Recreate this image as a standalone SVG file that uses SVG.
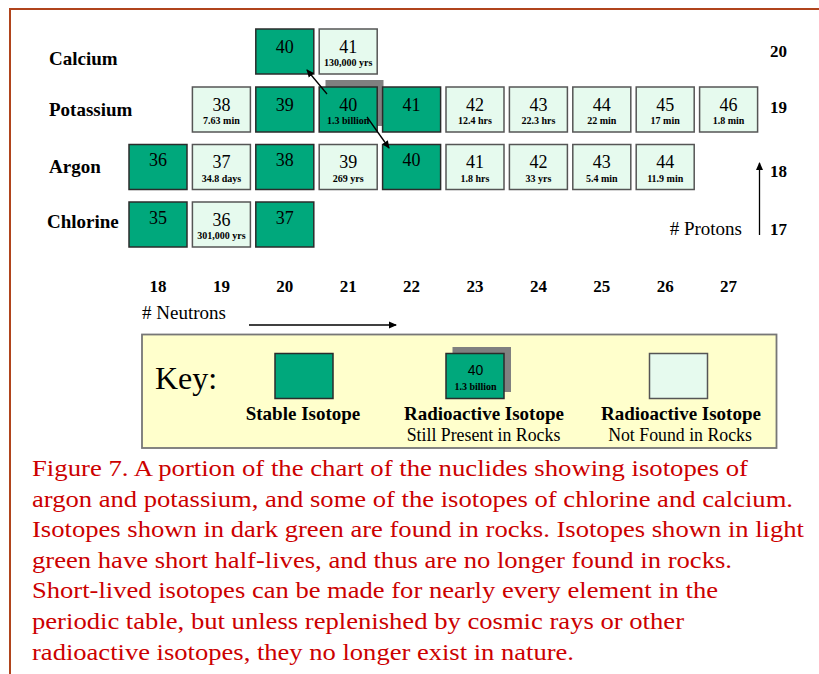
<svg xmlns="http://www.w3.org/2000/svg" width="819" height="674" viewBox="0 0 819 674">
<style>
.st{fill:#00a87c;stroke:#2b2b2b;stroke-width:1.5}
.lt{fill:#e6faee;stroke:#555;stroke-width:1.5}
.sh{fill:#808080}
.num{font-family:"Liberation Serif",serif;font-size:18px;fill:#000;text-anchor:middle}
.sub{font-family:"Liberation Serif",serif;font-size:10px;font-weight:bold;fill:#000;text-anchor:middle}
.el{font-family:"Liberation Serif",serif;font-size:19px;font-weight:bold;fill:#000}
.ax{font-family:"Liberation Serif",serif;font-size:17px;font-weight:bold;fill:#000}
.axl{font-family:"Liberation Serif",serif;font-size:19px;fill:#000}
.kl{font-family:"Liberation Serif",serif;font-size:19px;font-weight:bold;fill:#000;text-anchor:middle}
.ks{font-family:"Liberation Serif",serif;font-size:17.8px;fill:#000;text-anchor:middle}
.cap{font-family:"Liberation Serif",serif;font-size:24px;fill:#cc0000}
.ln{stroke:#000;stroke-width:1.3;fill:none}
</style>
<defs>
<marker id="ah" markerWidth="8" markerHeight="8" refX="7" refY="4" orient="auto" markerUnits="userSpaceOnUse">
<path d="M0,0.5 L8,4 L0,7.5 z" fill="#000"/>
</marker>
</defs>
<rect width="819" height="674" fill="#fff"/>
<g id="border" stroke="#b0441c" stroke-width="2" fill="none">
<path d="M10,674 V9 H819"/>
</g>
<g id="labels">
<text class="el" x="49" y="65">Calcium</text>
<text class="el" x="49" y="116">Potassium</text>
<text class="el" x="49" y="173">Argon</text>
<text class="el" x="47" y="228">Chlorine</text>
<text class="ax" x="787" y="56.5" text-anchor="end">20</text>
<text class="ax" x="787" y="113" text-anchor="end">19</text>
<text class="ax" x="787" y="176.5" text-anchor="end">18</text>
<text class="ax" x="787" y="235" text-anchor="end">17</text>
<text class="axl" x="742" y="235" text-anchor="end"># Protons</text>
<g class="ax" text-anchor="middle">
<text x="158" y="291.5">18</text>
<text x="221.4" y="291.5">19</text>
<text x="284.8" y="291.5">20</text>
<text x="348.2" y="291.5">21</text>
<text x="411.6" y="291.5">22</text>
<text x="475" y="291.5">23</text>
<text x="538.4" y="291.5">24</text>
<text x="601.8" y="291.5">25</text>
<text x="665.2" y="291.5">26</text>
<text x="728.6" y="291.5">27</text>
</g>
<text class="axl" x="142" y="319"># Neutrons</text>
</g>
<!-- Calcium -->
<g id="ca40"><rect class="st" x="255.8" y="29" width="58" height="45"/><text class="num" x="284.8" y="52.5">40</text></g>
<g id="ca41"><rect class="lt" x="319.2" y="29" width="58" height="45"/><text class="num" x="348.2" y="53">41</text><text class="sub" x="348.2" y="66">130,000 yrs</text></g>
<!-- Potassium -->
<g id="k38"><rect class="lt" x="192.4" y="87" width="58" height="45"/><text class="num" x="221.4" y="111">38</text><text class="sub" x="221.4" y="124">7.63 min</text></g>
<g id="k39"><rect class="st" x="255.8" y="87" width="58" height="45"/><text class="num" x="284.8" y="110.5">39</text></g>
<g id="k40"><rect class="sh" x="325.5" y="80" width="58" height="46"/><rect class="st" x="319.2" y="87" width="58" height="45"/><text class="num" x="348.2" y="110.5">40</text><text class="sub" x="348.2" y="124">1.3 billion</text></g>
<g id="k41"><rect class="st" x="382.6" y="87" width="58" height="45"/><text class="num" x="411.6" y="110.5">41</text></g>
<g id="k42"><rect class="lt" x="446" y="87" width="58" height="45"/><text class="num" x="475" y="111">42</text><text class="sub" x="475" y="124">12.4 hrs</text></g>
<g id="k43"><rect class="lt" x="509.4" y="87" width="58" height="45"/><text class="num" x="538.4" y="111">43</text><text class="sub" x="538.4" y="124">22.3 hrs</text></g>
<g id="k44"><rect class="lt" x="572.8" y="87" width="58" height="45"/><text class="num" x="601.8" y="111">44</text><text class="sub" x="601.8" y="124">22 min</text></g>
<g id="k45"><rect class="lt" x="636.2" y="87" width="58" height="45"/><text class="num" x="665.2" y="111">45</text><text class="sub" x="665.2" y="124">17 min</text></g>
<g id="k46"><rect class="lt" x="699.6" y="87" width="58" height="45"/><text class="num" x="728.6" y="111">46</text><text class="sub" x="728.6" y="124">1.8 min</text></g>
<!-- Argon -->
<g id="ar36"><rect class="st" x="129" y="144.5" width="58" height="45"/><text class="num" x="158" y="166">36</text></g>
<g id="ar37"><rect class="lt" x="192.4" y="144.5" width="58" height="45"/><text class="num" x="221.4" y="168">37</text><text class="sub" x="221.4" y="181.5">34.8 days</text></g>
<g id="ar38"><rect class="st" x="255.8" y="144.5" width="58" height="45"/><text class="num" x="284.8" y="166">38</text></g>
<g id="ar39"><rect class="lt" x="319.2" y="144.5" width="58" height="45"/><text class="num" x="348.2" y="168">39</text><text class="sub" x="348.2" y="181.5">269 yrs</text></g>
<g id="ar40"><rect class="st" x="382.6" y="144.5" width="58" height="45"/><text class="num" x="411.6" y="166">40</text></g>
<g id="ar41"><rect class="lt" x="446" y="144.5" width="58" height="45"/><text class="num" x="475" y="168">41</text><text class="sub" x="475" y="181.5">1.8 hrs</text></g>
<g id="ar42"><rect class="lt" x="509.4" y="144.5" width="58" height="45"/><text class="num" x="538.4" y="168">42</text><text class="sub" x="538.4" y="181.5">33 yrs</text></g>
<g id="ar43"><rect class="lt" x="572.8" y="144.5" width="58" height="45"/><text class="num" x="601.8" y="168">43</text><text class="sub" x="601.8" y="181.5">5.4 min</text></g>
<g id="ar44"><rect class="lt" x="636.2" y="144.5" width="58" height="45"/><text class="num" x="665.2" y="168">44</text><text class="sub" x="665.2" y="181.5">11.9 min</text></g>
<!-- Chlorine -->
<g id="cl35"><rect class="st" x="129" y="202" width="58" height="45"/><text class="num" x="158" y="223.5">35</text></g>
<g id="cl36"><rect class="lt" x="192.4" y="202" width="58" height="45"/><text class="num" x="221.4" y="225.5">36</text><text class="sub" x="221.4" y="239">301,000 yrs</text></g>
<g id="cl37"><rect class="st" x="255.8" y="202" width="58" height="45"/><text class="num" x="284.8" y="223.5">37</text></g>
<g id="connectors">
<line class="ln" x1="327" y1="94" x2="307" y2="70" marker-end="url(#ah)"/>
<line class="ln" x1="367" y1="117" x2="389" y2="148" marker-end="url(#ah)"/>
<line class="ln" x1="759.5" y1="235" x2="759.5" y2="163" marker-end="url(#ah)"/>
<line class="ln" x1="249" y1="325" x2="396" y2="325" marker-end="url(#ah)"/>
</g>
<g id="key">
<rect x="142" y="334.5" width="634.5" height="113.5" fill="#ffffcc" stroke="#777" stroke-width="1.8"/>
<text x="155" y="389" font-family="Liberation Serif, serif" font-size="32" fill="#000">Key:</text>
<rect class="st" x="275" y="353.5" width="58" height="45"/>
<text class="kl" x="303" y="420">Stable Isotope</text>
<rect class="sh" x="452.5" y="347" width="58.5" height="45"/>
<rect class="st" x="446" y="353.5" width="58" height="45"/>
<text x="475.5" y="375" font-family="Liberation Sans, Arial, sans-serif" font-size="14" fill="#000" text-anchor="middle">40</text>
<text class="sub" x="475.5" y="389.5" font-size="7.5">1.3 billion</text>
<text class="kl" x="484" y="420">Radioactive Isotope</text>
<text class="ks" x="483.5" y="441">Still Present in Rocks</text>
<rect class="lt" x="649.5" y="353.5" width="58" height="45"/>
<text class="kl" x="681" y="420">Radioactive Isotope</text>
<text class="ks" x="680" y="441">Not Found in Rocks</text>
</g>
<g id="caption" class="cap">
<text x="32" y="476" textLength="716" lengthAdjust="spacingAndGlyphs">Figure 7. A portion of the chart of the nuclides showing isotopes of</text>
<text x="32" y="506.7" textLength="761" lengthAdjust="spacingAndGlyphs">argon and potassium, and some of the isotopes of chlorine and calcium.</text>
<text x="32" y="537" textLength="772" lengthAdjust="spacingAndGlyphs">Isotopes shown in dark green are found in rocks. Isotopes shown in light</text>
<text x="32" y="567.5" textLength="700" lengthAdjust="spacingAndGlyphs">green have short half-lives, and thus are no longer found in rocks.</text>
<text x="32" y="598.3" textLength="686" lengthAdjust="spacingAndGlyphs">Short-lived isotopes can be made for nearly every element in the</text>
<text x="32" y="629" textLength="652" lengthAdjust="spacingAndGlyphs">periodic table, but unless replenished by cosmic rays or other</text>
<text x="32" y="660" textLength="542" lengthAdjust="spacingAndGlyphs">radioactive isotopes, they no longer exist in nature.</text>
</g>
</svg>
